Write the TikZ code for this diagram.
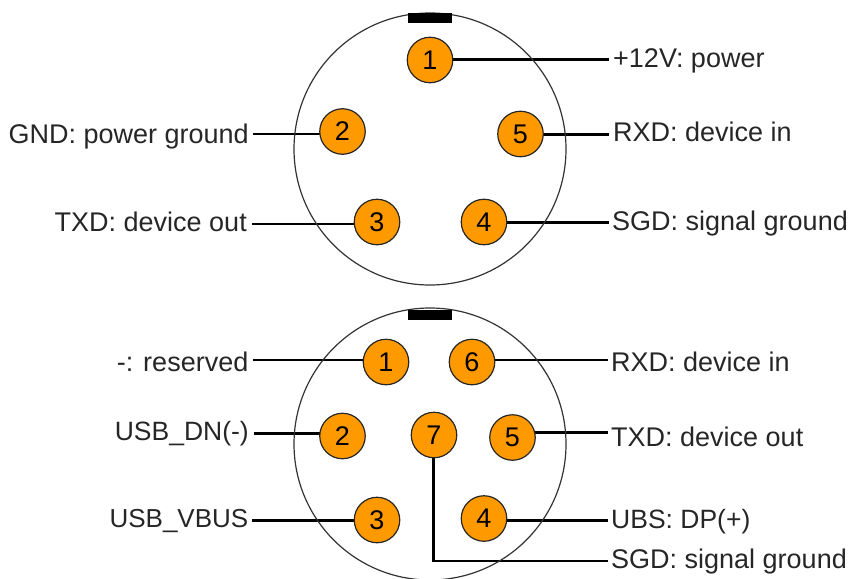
\documentclass[tikz,border=0pt]{standalone}
\usepackage{fontspec}
\setmainfont{Liberation Sans}
\usetikzlibrary{backgrounds}
\definecolor{pinfill}{HTML}{FF9900}
\tikzset{
  x=1pt,y=-1pt,
  shell/.style={circle,draw=black!80,line width=1.2pt,minimum size=272pt,inner sep=0pt},
  pin/.style={circle,draw=black!85,line width=1.2pt,fill=pinfill,minimum size=45.5pt,inner sep=0pt,font=\fontsize{27}{28}\selectfont},
  lab/.style={inner sep=0pt,font=\fontsize{27}{28}\selectfont,text=black!85},
  labl/.style={lab,anchor=base east},
  labr/.style={lab,anchor=base west},
  wire/.style={line width=2.7pt,line join=miter},
  keybar/.style={fill=black,draw=none}
}
\begin{document}
\begin{tikzpicture}
\useasboundingbox (0,0) rectangle (848,578);
\node[shell] (s1) at (430,149) {};
\node[shell] (s2) at (430,444) {};
\fill[keybar] (408,13) rectangle (452,23);
\fill[keybar] (408,310) rectangle (452,320);
\node[pin] (a1) at (430,60) {1};
\node[pin] (a2) at (342.5,131.5) {2};
\node[pin] (a3) at (377,222) {3};
\node[pin] (a4) at (484,222) {4};
\node[pin] (a5) at (520.5,134) {5};
\node[labr] (la1) at (613,67) {+12V: power};
\node[labl] (la2) at (249,143) {GND: power ground};
\node[labl] (la3) at (247,231.5) {TXD: device out};
\node[labr] (la4) at (612,230) {SGD: signal ground};
\node[labr] (la5) at (613,141.7) {RXD: device in};
\coordinate (ea1) at (609,59.5);
\coordinate (ea2) at (253,134);
\coordinate (ea3) at (251.5,224);
\coordinate (ea4) at (609,222.3);
\coordinate (ea5) at (609,134.3);
\begin{scope}[on background layer]
\draw[wire] (a1 |- ea1) -- (ea1);
\draw[wire] (a2 |- ea2) -- (ea2);
\draw[wire] (a3 |- ea3) -- (ea3);
\draw[wire] (a4 |- ea4) -- (ea4);
\draw[wire] (a5 |- ea5) -- (ea5);
\end{scope}
\node[pin] (b1) at (386,362) {1};
\node[pin] (b2) at (342.5,436) {2};
\node[pin] (b3) at (377,520) {3};
\node[pin] (b4) at (484,518.5) {4};
\node[pin] (b5) at (512.5,437.5) {5};
\node[pin] (b6) at (472,362) {6};
\node[pin] (b7) at (434,435) {7};
\node[labl] (lb1) at (248.5,371.7) {-: reserved};
\node[labl,font=\fontsize{26.5}{28}\selectfont] (lb2) at (249,440) {USB\_DN(-)};
\node[labl,font=\fontsize{26}{28}\selectfont] (lb3) at (248.5,527.5) {USB\_VBUS};
\node[labr,font=\fontsize{26.5}{28}\selectfont] (lb4) at (611,528) {UBS: DP(+)};
\node[labr] (lb5) at (611,446) {TXD: device out};
\node[labr] (lb6) at (611,371.7) {RXD: device in};
\node[labr] (lb7) at (611,568) {SGD: signal ground};
\coordinate (eb1) at (253,360);
\coordinate (eb2) at (254,433.3);
\coordinate (eb3) at (251.5,520.7);
\coordinate (eb4) at (608,520.7);
\coordinate (eb5) at (608,432.5);
\coordinate (eb6) at (608,360);
\coordinate (eb7) at (608,561);
\begin{scope}[on background layer]
\draw[wire] (b1 |- eb1) -- (eb1);
\draw[wire] (b2 |- eb2) -- (eb2);
\draw[wire] (b3 |- eb3) -- (eb3);
\draw[wire] (b4 |- eb4) -- (eb4);
\draw[wire] (b5 |- eb5) -- (eb5);
\draw[wire] (b6 |- eb6) -- (eb6);
\draw[wire] ([xshift=-0.7pt]b7.center) |- (eb7);
\end{scope}
\end{tikzpicture}
\end{document}
